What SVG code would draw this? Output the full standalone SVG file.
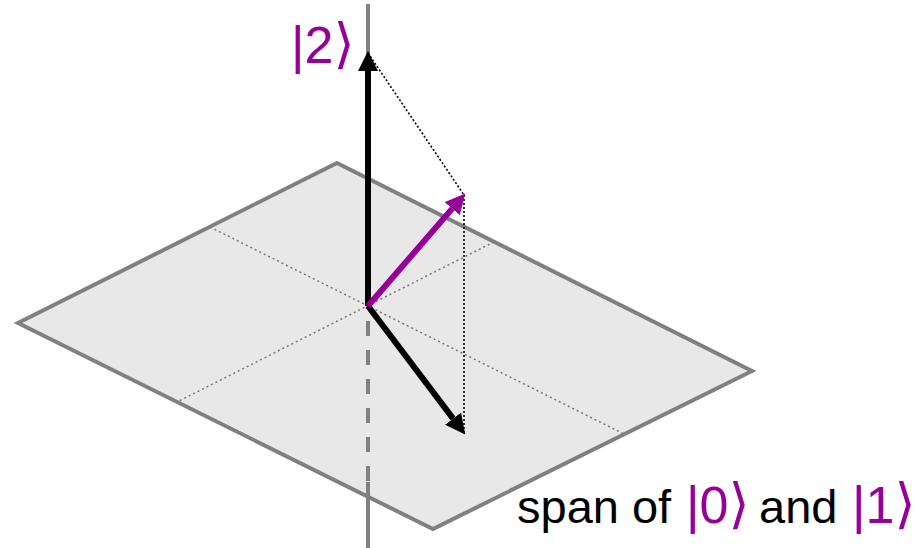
<svg xmlns="http://www.w3.org/2000/svg" width="921" height="548" viewBox="0 0 921 548">
<style>
.plane{fill:#e8e8e8;stroke:#808080;stroke-width:4;stroke-linejoin:miter}
.grid{stroke:#777;stroke-width:1.5;stroke-dasharray:2 3;fill:none}
.axis{stroke:#808080;stroke-width:4;fill:none}
.proj{stroke:#000;stroke-width:1.6;stroke-dasharray:2 2;fill:none}
.vec{stroke:#000;stroke-width:6;fill:none}
.pvec{stroke:#960096;stroke-width:6;fill:none}
.word{font-family:"Liberation Sans",Arial,sans-serif;font-size:47px;fill:#000}
.ket{font-family:"Liberation Sans",Arial,"DejaVu Sans",sans-serif;font-size:52px;fill:#960096}
.br{font-family:"DejaVu Sans",sans-serif;font-size:54px}
</style>
<defs>
<marker id="hb" markerUnits="userSpaceOnUse" markerWidth="20" markerHeight="20" refX="0" refY="9" orient="auto" viewBox="0 0 18 18">
<path d="M0,0 L18,9 L0,18 z" fill="#000"/>
</marker>
<marker id="hp" markerUnits="userSpaceOnUse" markerWidth="20" markerHeight="20" refX="0" refY="9" orient="auto" viewBox="0 0 18 18">
<path d="M0,0 L18,9 L0,18 z" fill="#960096"/>
</marker>
</defs>
<g id="plane">
<polygon class="plane" points="337,163 752,371 433,529 18,323"/>
<line class="grid" x1="210" y1="227" x2="624" y2="434"/>
<line class="grid" x1="494" y1="242" x2="177" y2="402"/>
</g>
<g id="axis">
<line class="axis" x1="368" y1="4" x2="368" y2="306"/>
<line class="axis" x1="368" y1="306" x2="368" y2="482" stroke-dasharray="15 14" stroke-dashoffset="-15"/>
<line class="axis" x1="368" y1="482" x2="368" y2="548"/>
</g>
<g id="connectors">
<line class="proj" x1="368" y1="53" x2="464" y2="195"/>
<line class="proj" x1="464" y1="195" x2="464" y2="433"/>
<line class="vec" x1="368" y1="306" x2="368" y2="71" marker-end="url(#hb)"/>
<line class="vec" x1="368" y1="306" x2="453.1" y2="418.6" marker-end="url(#hb)"/>
<line class="pvec" x1="368" y1="306" x2="452.2" y2="208.6" marker-end="url(#hp)"/>
</g>
<g id="label-2">
<text class="ket" x="291" y="63">|2<tspan class="br" dy="-1">⟩</tspan></text>
</g>
<g id="label-span">
<text class="word" x="517" y="523">span of</text>
<text class="ket" x="686" y="523">|0<tspan class="br" dy="-1">⟩</tspan></text>
<text class="word" x="759" y="523">and</text>
<text class="ket" x="852" y="523">|1<tspan class="br" dy="-1">⟩</tspan></text>
</g>
</svg>
